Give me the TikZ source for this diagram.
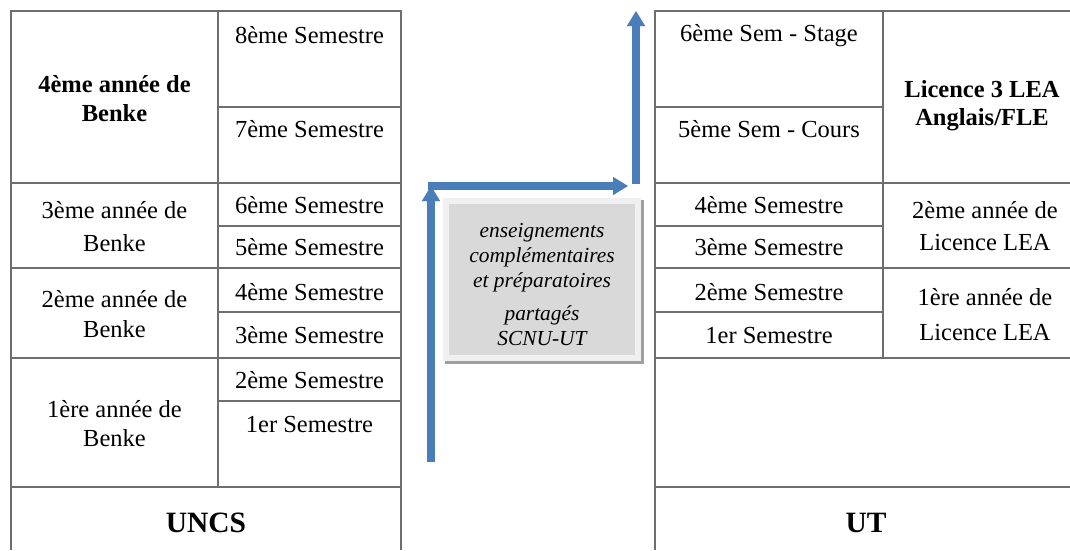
\documentclass[tikz,border=0pt]{standalone}
\usepackage{fontspec}
\setmainfont{Liberation Serif}
\usetikzlibrary{arrows.meta}
\definecolor{gridc}{HTML}{6E6E6E}
\definecolor{arrblue}{HTML}{4A7EBB}
\definecolor{shadowc}{HTML}{A0A0A0}
\definecolor{boxfill}{HTML}{D9D9D9}
\definecolor{boxframe}{HTML}{F0F0F0}
\tikzset{
  grid/.style={draw=gridc, line width=1.3pt},
  txt/.style={anchor=base, inner sep=0pt, font=\fontsize{24.5}{29}\selectfont},
  btxt/.style={txt, font=\fontsize{24.5}{29}\selectfont\bfseries},
  bigtxt/.style={anchor=base, inner sep=0pt, font=\fontsize{29.5}{34}\selectfont\bfseries},
  itxt/.style={anchor=base, inner sep=0pt, font=\fontsize{21.4}{25}\selectfont\itshape},
  flow/.style={draw=arrblue, line width=7.5pt, -{Triangle[length=15pt,width=17pt]}},
  flowshadow/.style={draw=shadowc, line width=7.5pt, -{Triangle[length=15pt,width=17pt]}}
}
\begin{document}
\begin{tikzpicture}[x=1pt,y=-1pt]
\useasboundingbox (0,0) rectangle (1070,550);
\fill[white] (0,0) rectangle (1070,550);

% ---------- left table (UNCS)
\draw[grid] (11,550) -- (11,11) -- (401,11) -- (401,550);
\draw[grid] (218,11) -- (218,487);
\draw[grid] (218,107) -- (401,107);
\draw[grid] (11,183) -- (401,183);
\draw[grid] (218,226) -- (401,226);
\draw[grid] (11,268) -- (401,268);
\draw[grid] (218,312) -- (401,312);
\draw[grid] (11,358) -- (401,358);
\draw[grid] (218,401) -- (401,401);
\draw[grid] (11,487) -- (401,487);

\node[btxt] (l4a) at (114.5,92) {4ème année de};
\node[btxt] (l4b) at (114.5,121) {Benke};
\node[txt] (s8) at (309.5,43) {8ème Semestre};
\node[txt] (s7) at (309.5,137) {7ème Semestre};
\node[txt] (l3a) at (114.5,218) {3ème année de};
\node[txt] (l3b) at (114.5,251) {Benke};
\node[txt] (s6) at (309.5,213) {6ème Semestre};
\node[txt] (s5) at (309.5,255) {5ème Semestre};
\node[txt] (l2a) at (114.5,307) {2ème année de};
\node[txt] (l2b) at (114.5,337) {Benke};
\node[txt] (s4) at (309.5,300) {4ème Semestre};
\node[txt] (s3) at (309.5,343) {3ème Semestre};
\node[txt] (l1a) at (114.5,417) {1ère année de};
\node[txt] (l1b) at (114.5,446) {Benke};
\node[txt] (s2) at (309.5,388) {2ème Semestre};
\node[txt] (s1) at (309.5,432) {1er Semestre};
\node[bigtxt] (uncs) at (206,532) {UNCS};

% ---------- right table (UT)
\draw[grid] (655,550) -- (655,11) -- (1070,11);
\draw[grid] (883,11) -- (883,358);
\draw[grid] (655,107) -- (883,107);
\draw[grid] (655,183) -- (1070,183);
\draw[grid] (655,226) -- (883,226);
\draw[grid] (655,268) -- (1070,268);
\draw[grid] (655,312) -- (883,312);
\draw[grid] (655,358) -- (1070,358);
\draw[grid] (655,487) -- (1070,487);

\node[txt] (r6) at (769,41) {6ème Sem - Stage};
\node[txt] (r5) at (769,137) {5ème Sem - Cours};
\node[btxt] (rl3a) at (982,97) {Licence 3 LEA};
\node[btxt] (rl3b) at (982,125) {Anglais/FLE};
\node[txt] (r4) at (769,213) {4ème Semestre};
\node[txt] (r3) at (769,255) {3ème Semestre};
\node[txt] (rl2a) at (985,218) {2ème année de};
\node[txt] (rl2b) at (985,250) {Licence LEA};
\node[txt] (r2) at (769,300) {2ème Semestre};
\node[txt] (r1) at (769,343) {1er Semestre};
\node[txt] (rl1a) at (985,305) {1ère année de};
\node[txt] (rl1b) at (985,340) {Licence LEA};
\node[bigtxt] (ut) at (866,532) {UT};

% ---------- middle box
\fill[shadowc] (445,200) rectangle (644,364);
\fill[boxframe] (443,198) rectangle (641,361);
\fill[boxfill] (449,204) rectangle (635,355);
\node[itxt] (m1) at (542,237) {enseignements};
\node[itxt] (m2) at (542,262) {complémentaires};
\node[itxt] (m3) at (542,287) {et préparatoires};
\node[itxt] (m4) at (542,320) {partagés};
\node[itxt] (m5) at (542,345) {SCNU-UT};

% ---------- arrows
\coordinate (a0) at (431,462);
\coordinate (a1) at (431,186);
\coordinate (b0) at (428,186);
\coordinate (b1) at (628,186);
\coordinate (c0) at (636,184);
\coordinate (c1) at (636,11);
\begin{scope}[shift={(1.5,3)}]
\draw[flowshadow] (a0) -- (a1);
\draw[flowshadow] (b0) -- (b1);
\draw[flowshadow] (c0) -- (c1);
\end{scope}
\draw[flow] (a0) -- (a1);
\draw[flow] (b0) -- (b1);
\draw[flow] (c0) -- (c1);
\end{tikzpicture}
\end{document}
